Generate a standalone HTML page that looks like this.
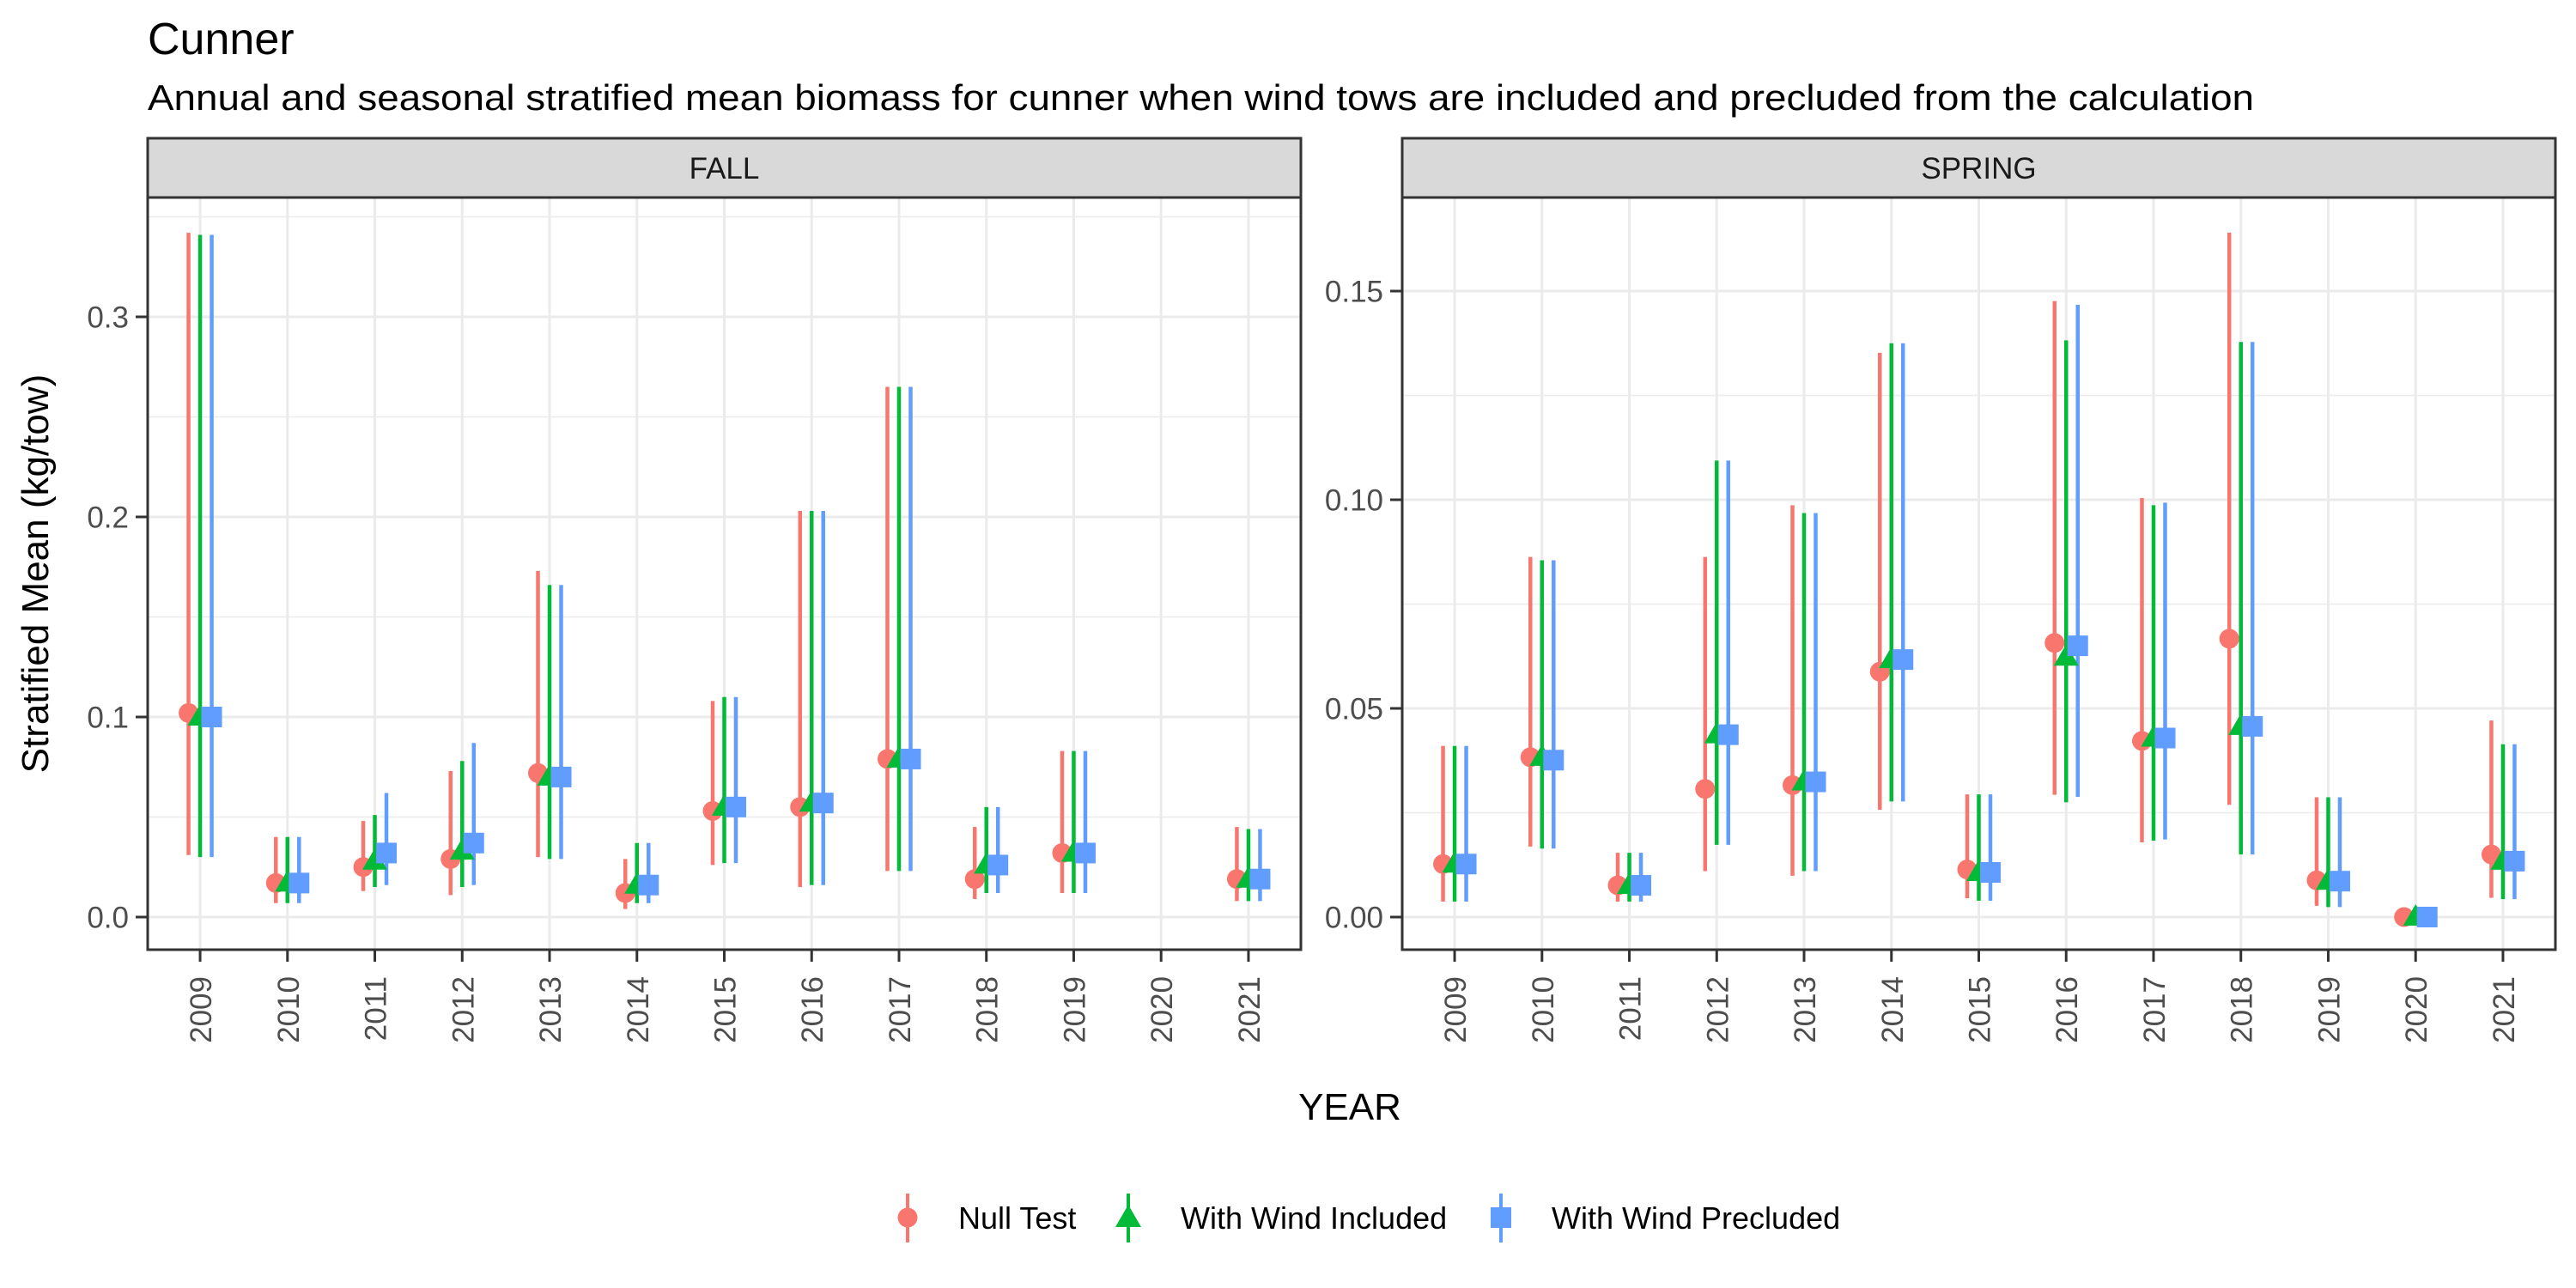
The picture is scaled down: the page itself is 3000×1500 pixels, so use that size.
<!DOCTYPE html>
<html><head><meta charset="utf-8"><style>
html,body{margin:0;padding:0;background:#fff}
svg{display:block}
text{font-family:"Liberation Sans",Arial,sans-serif}
</style></head><body>
<svg id="chart" width="3000" height="1500" viewBox="0 0 3000 1500" xmlns="http://www.w3.org/2000/svg">
<rect width="3000" height="1500" fill="#fff"/>
<text x="172" y="63" font-size="52" fill="#000">Cunner</text>
<text x="172" y="128" font-size="42" fill="#000" textLength="2453" lengthAdjust="spacingAndGlyphs">Annual and seasonal stratified mean biomass for cunner when wind tows are included and precluded from the calculation</text>
<text transform="translate(56,668) rotate(-90)" text-anchor="middle" font-size="44" fill="#000">Stratified Mean (kg/tow)</text>
<text x="1572" y="1304" text-anchor="middle" font-size="44" fill="#000">YEAR</text>
<g id="legend">
  <g>
    <line x1="1057" y1="1390" x2="1057" y2="1447" stroke="#F8766D" stroke-width="4"/>
    <circle cx="1057" cy="1418" r="11.5" fill="#F8766D"/>
    <text x="1116" y="1431" font-size="36" fill="#000">Null Test</text>
  </g>
  <g>
    <line x1="1314" y1="1390" x2="1314" y2="1447" stroke="#00BA38" stroke-width="4"/>
    <polygon points="1314,1403 1329,1429 1299,1429" fill="#00BA38"/>
    <text x="1375" y="1431" font-size="36" fill="#000">With Wind Included</text>
  </g>
  <g>
    <line x1="1748" y1="1390" x2="1748" y2="1447" stroke="#619CFF" stroke-width="4"/>
    <rect x="1736" y="1406" width="24" height="24" fill="#619CFF"/>
    <text x="1807" y="1431" font-size="36" fill="#000">With Wind Precluded</text>
  </g>
</g>
</svg>
<script>
const years = [2009,2010,2011,2012,2013,2014,2015,2016,2017,2018,2019,2020,2021];
const seriesNames = ["Null Test","With Wind Included","With Wind Precluded"];
// FALL (null = missing)
const fallNullMean = [0.102,0.017,0.025,0.029,0.072,0.012,0.053,0.055,0.079,0.019,0.032,null,0.019];
const fallNullLo   = [0.031,0.007,0.013,0.011,0.030,0.004,0.026,0.015,0.023,0.009,0.012,null,0.008];
const fallNullHi   = [0.342,0.040,0.048,0.073,0.173,0.029,0.108,0.203,0.265,0.045,0.083,null,0.045];
const fallWindMean = [0.100,0.017,0.028,0.033,0.070,0.016,0.055,0.057,0.079,0.026,0.032,null,0.019];
const fallWindLo   = [0.030,0.007,0.015,0.015,0.029,0.007,0.027,0.016,0.023,0.012,0.012,null,0.008];
const fallWindHi   = [0.341,0.040,0.051,0.078,0.166,0.037,0.110,0.203,0.265,0.055,0.083,null,0.044];
const fallPreMean  = [0.100,0.017,0.032,0.037,0.070,0.016,0.055,0.057,0.079,0.026,0.032,null,0.019];
const fallPreLo    = [0.030,0.007,0.016,0.016,0.029,0.007,0.027,0.016,0.023,0.012,0.012,null,0.008];
const fallPreHi    = [0.341,0.040,0.062,0.087,0.166,0.037,0.110,0.203,0.265,0.055,0.083,null,0.044];
// SPRING
const sprNullMean = [0.0127,0.0383,0.0076,0.0307,0.0316,0.0588,0.0114,0.0657,0.0422,0.0667,0.0088,0.0,0.0150];
const sprNullLo   = [0.0037,0.0169,0.0037,0.0110,0.0099,0.0257,0.0045,0.0293,0.0179,0.0269,0.0027,0.0,0.0046];
const sprNullHi   = [0.0410,0.0863,0.0154,0.0863,0.0987,0.1352,0.0294,0.1476,0.1004,0.1640,0.0287,0.0,0.0471];
const sprWindMean = [0.0127,0.0383,0.0076,0.0437,0.0324,0.0617,0.0107,0.0623,0.0429,0.0457,0.0086,0.0,0.0134];
const sprWindLo   = [0.0037,0.0164,0.0037,0.0173,0.0110,0.0277,0.0039,0.0275,0.0183,0.0150,0.0024,0.0,0.0043];
const sprWindHi   = [0.0410,0.0855,0.0154,0.1094,0.0968,0.1375,0.0294,0.1382,0.0987,0.1378,0.0287,0.0,0.0414];
const sprPreMean  = [0.0127,0.0376,0.0076,0.0437,0.0324,0.0617,0.0107,0.0650,0.0429,0.0457,0.0086,0.0,0.0134];
const sprPreLo    = [0.0037,0.0164,0.0037,0.0173,0.0110,0.0277,0.0039,0.0288,0.0186,0.0150,0.0024,0.0,0.0043];
const sprPreHi    = [0.0410,0.0855,0.0154,0.1094,0.0968,0.1375,0.0294,0.1467,0.0993,0.1378,0.0287,0.0,0.0414];
const fallTicks = [0.0,0.1,0.2,0.3];
const fallTickLabels = ["0.0","0.1","0.2","0.3"];
const sprTicks = [0.00,0.05,0.10,0.15];
const sprTickLabels = ["0.00","0.05","0.10","0.15"];

const NS = "http://www.w3.org/2000/svg";
const svg = document.getElementById('chart');
const legend = document.getElementById('legend');
const colors = ["#F8766D","#00BA38","#619CFF"];
function mk(tag, attrs, parent){
  const e = document.createElementNS(NS, tag);
  for (const k in attrs) e.setAttribute(k, attrs[k]);
  (parent||svg).insertBefore(e, legend);
  return e;
}
function panel(opts){
  const {x0,x1,top,bottom,yTop,yDomainMax,ticks,tickLabels,minorStep,title,series,key} = opts;
  const g = document.createElementNS(NS,'g');
  
  
  svg.insertBefore(g, legend);
  const step = (x1-x0)/(years.length-1+1.2);
  const xs = i => x0 + step*(0.6+i);
  const y0 = 1068;
  const ys = v => y0 - (v/yDomainMax)*(y0-yTop);
  function add(tag, attrs, parent){
    const e = document.createElementNS(NS, tag);
    for (const k in attrs) e.setAttribute(k, attrs[k]);
    (parent||g).appendChild(e);
    return e;
  }
  // strip
  const strip = add('rect',{x:x0,y:161,width:x1-x0,height:top-161,fill:'#D9D9D9',stroke:'#333',"stroke-width":3});
  
  
  const st = add('text',{x:(x0+x1)/2,y:top-22,"text-anchor":"middle","font-size":35,fill:'#1A1A1A'});
  st.textContent = title;
  
  
  // minor grid
  const maxV = (y0-top)/(y0-yTop)*yDomainMax;
  for (let v=minorStep/2-minorStep; v<=maxV; v+=minorStep){
    const mv = v;
    if (mv < -0.02*yDomainMax) continue;
    const y = ys(mv);
    if (y<top || y>bottom) continue;
    add('line',{x1:x0,x2:x1,y1:y,y2:y,stroke:'#EBEBEB',"stroke-width":1.5});
  }
  // major grid
  ticks.forEach((t,i)=>{
    const y = ys(t);
    const l = add('line',{x1:x0,x2:x1,y1:y,y2:y,stroke:'#EBEBEB',"stroke-width":3});
    
    
    add('line',{x1:x0-14,x2:x0,y1:y,y2:y,stroke:'#333',"stroke-width":3});
    const tl = add('text',{x:x0-22,y:y+12.5,"text-anchor":"end","font-size":35,fill:'#4D4D4D'});
    tl.textContent = tickLabels[i];
    
    
  });
  years.forEach((yr,i)=>{
    const x = xs(i);
    add('line',{x1:x,x2:x,y1:top,y2:bottom,stroke:'#EBEBEB',"stroke-width":3});
    add('line',{x1:x,x2:x,y1:bottom,y2:bottom+14,stroke:'#333',"stroke-width":3});
    const tl = add('text',{transform:`translate(${x+13},${bottom+31}) rotate(-90)`,"text-anchor":"end","font-size":35,fill:'#4D4D4D'});
    tl.textContent = yr;
    
    
  });
  // error bars
  const off = [-13.5,0,13.5];
  series.forEach((s,si)=>{
    s.mean.forEach((m,i)=>{
      if (m===null) return;
      const x = xs(i)+off[si];
      const eb = add('line',{x1:x,x2:x,y1:ys(s.lo[i]),y2:ys(s.hi[i]),stroke:colors[si],"stroke-width":4.5});
      
      
    });
  });
  function yr(i){return years[i];}
  series.forEach((s,si)=>{
    s.mean.forEach((m,i)=>{
      if (m===null) return;
      const x = xs(i)+off[si], y = ys(m);
      let p;
      if (si===0) p = add('circle',{cx:x,cy:y,r:11.5,fill:colors[0]});
      else if (si===1) p = add('polygon',{points:`${x},${y-15} ${x+14.5},${y+10} ${x-14.5},${y+10}`,fill:colors[1]});
      else p = add('rect',{x:x-12,y:y-12,width:24,height:24,fill:colors[2]});
      
      
    });
  });
  const border = add('rect',{x:x0,y:top,width:x1-x0,height:bottom-top,fill:'none',stroke:'#333',"stroke-width":3});
  
  
}
panel({x0:172,x1:1515,top:230,bottom:1106,yTop:369,yDomainMax:0.3,ticks:fallTicks,tickLabels:fallTickLabels,minorStep:0.1,title:'FALL',key:'fall',
  series:[{mean:fallNullMean,lo:fallNullLo,hi:fallNullHi},{mean:fallWindMean,lo:fallWindLo,hi:fallWindHi},{mean:fallPreMean,lo:fallPreLo,hi:fallPreHi}]});
panel({x0:1633,x1:2976,top:230,bottom:1106,yTop:339,yDomainMax:0.15,ticks:sprTicks,tickLabels:sprTickLabels,minorStep:0.05,title:'SPRING',key:'spring',
  series:[{mean:sprNullMean,lo:sprNullLo,hi:sprNullHi},{mean:sprWindMean,lo:sprWindLo,hi:sprWindHi},{mean:sprPreMean,lo:sprPreLo,hi:sprPreHi}]});
</script>
</body></html>
